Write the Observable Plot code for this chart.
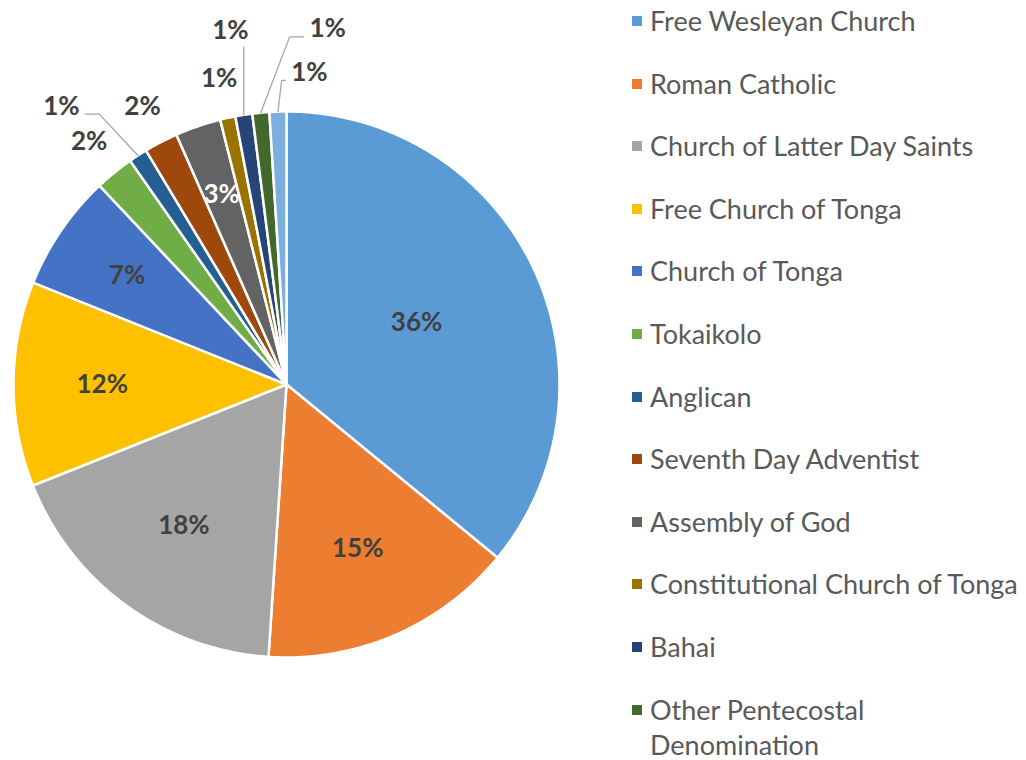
<!DOCTYPE html>
<html><head><meta charset="utf-8">
<script src="https://cdn.jsdelivr.net/npm/d3@7"></script>
<script src="https://cdn.jsdelivr.net/npm/@observablehq/plot@0.6"></script>
<style>
html,body{margin:0;padding:0;background:#fff;overflow:hidden;}
#wrap{position:relative;width:1026px;height:760px;overflow:hidden;font-family:Lato,sans-serif;}
#chart{position:absolute;left:0;top:0;}
#legend{position:absolute;left:632px;top:0;}
.row{min-height:62.6px;display:flex;align-items:flex-start;padding-top:3px;box-sizing:border-box;}
.sw{width:10px;height:10px;margin-top:13px;margin-right:8px;flex:none;}
.tx{font-size:27px;line-height:35px;color:#595959;max-width:372px;}
</style></head>
<body><div id="wrap"><div id="chart"></div><div id="legend"></div></div>
<script>
// ---- data ----
const categories = [
  "Free Wesleyan Church", "Roman Catholic", "Church of Latter Day Saints",
  "Free Church of Tonga", "Church of Tonga", "Tokaikolo", "Anglican",
  "Seventh Day Adventist", "Assembly of God", "Constitutional Church of Tonga",
  "Bahai", "Other Pentecostal Denomination", "Other"
];
const shares = [35.9, 15.1, 17.9, 12.1, 6.9, 2.3, 1.1, 2.0, 2.7, 0.9, 1.0, 1.0, 1.0];
const palette = ["#5B9BD5", "#ED7D31", "#A5A5A5", "#FFC000", "#4472C4", "#70AD47",
  "#255E91", "#9E480E", "#636363", "#997300", "#264478", "#43682B", "#7CAFDD"];

// ---- layout ----
const W = 600, H = 760, CX = 286, CY = 384, R_PX = 273;

// ---- geometry (unit circle, angle clockwise from 12 o'clock) ----
const total = d3.sum(shares);
const pt = (a, r) => [r * Math.sin(a), -r * Math.cos(a)];
let acc = 0;
const slices = categories.map((name, i) => {
  const a0 = acc / total * 2 * Math.PI; acc += shares[i];
  const a1 = acc / total * 2 * Math.PI;
  return {name, i, share: shares[i], a0, a1, mid: (a0 + a1) / 2,
          label: Math.round(shares[i]) + "%", color: palette[i]};
});
const features = slices.map(s => {
  const n = Math.max(2, Math.ceil((s.a1 - s.a0) / (Math.PI / 360)));
  const ring = [[0, 0]];
  for (let j = 0; j <= n; j++) ring.push(pt(s.a0 + (s.a1 - s.a0) * j / n, 1));
  ring.push([0, 0]);
  return {type: "Feature", properties: {name: s.name}, geometry: {type: "Polygon", coordinates: [ring]}};
});
// frame in unit coordinates (whole SVG), so the pie lands at (CX, CY) with radius R_PX
const x0 = -CX / R_PX, x1 = (W - CX) / R_PX, y0 = -CY / R_PX, y1 = (H - CY) / R_PX;
const domain = {type: "Polygon", coordinates: [[[x0, y0], [x1, y0], [x1, y1], [x0, y1], [x0, y0]]]};

// ---- labels ----
const inside = [], outside = [], leaders = [];
const u = 1 / R_PX;
const bw = 60 * u, bh = 30 * u, halfText = 20 * u;
const near = 1 + 40 * u, far = 1 + 85 * u;
const overlaps = (a, b) => Math.abs(a[0] - b[0]) < bw && Math.abs(a[1] - b[1]) < bh;
const outs = slices.filter(s => s.share / total < 0.025);
const ideal = outs.map(s => pt(s.mid, near));
const placed = [];
slices.forEach(s => {
  const frac = s.share / total;
  if (frac >= 0.025) {
    const [x, y] = pt(s.mid, 0.75 - 0.62 * frac);
    inside.push({x, y, label: s.label, fill: d3.hsl(s.color).l < 0.45 ? "white" : "#404040"});
  }
});
outs.forEach((s, j) => {
  let p = ideal[j], moved = false;
  if (placed.some(q => overlaps(p, q))) {
    const cands = [];
    for (const dd of [0, 6, 12, 18, 24]) {
      const d = dd * Math.PI / 180;
      cands.push([s.mid - d, far], [s.mid + d, far], [s.mid - d, near], [s.mid + d, near]);
    }
    const later = ideal.slice(j + 1);
    for (const c of cands) {
      const q = pt(c[0], c[1]);
      if (!placed.some(r => overlaps(q, r)) && !later.some(r => overlaps(q, r))) { p = q; moved = true; break; }
    }
  }
  placed.push(p);
  const [x, y] = p;
  outside.push({x, y, label: s.label});
  if (moved) {
    const [ax, ay] = pt(s.mid, 1);
    if (ax > x - halfText && ax < x + halfText && ay > y) {
      leaders.push({id: s.name, x: ax, y: y + 16 * u}, {id: s.name, x: ax, y: ay});
    } else {
      const side = ax > x ? 1 : -1;
      const sx = x + side * (halfText + 4 * u), sy = y + 8 * u;
      const el = Math.min(14 * u, Math.abs(ax - sx) / 2);
      leaders.push({id: s.name, x: sx, y: sy}, {id: s.name, x: sx + side * el, y: sy}, {id: s.name, x: ax, y: ay});
    }
  }
});

const chart = Plot.plot({
  width: W, height: H,
  margin: 0,
  projection: {type: "identity", domain},
  color: {domain: categories, range: palette},
  style: {fontFamily: "Lato, sans-serif", overflow: "visible"},
  marks: [
    Plot.geo(features, {fill: d => d.properties.name, stroke: "white", strokeWidth: 2.5}),
    Plot.line(leaders, {x: "x", y: "y", z: "id", stroke: "#A6A6A6", strokeWidth: 1.3}),
    Plot.text(inside, {x: "x", y: "y", text: "label", fill: "fill", fontSize: 26, fontWeight: "bold"}),
    Plot.text(outside, {x: "x", y: "y", text: "label", fill: "#404040", fontSize: 26, fontWeight: "bold"})
  ]
});
document.getElementById("chart").appendChild(chart);

// ---- legend (entries past the bottom edge are cut, as in the original) ----
const legend = document.getElementById("legend");
categories.forEach((c, i) => {
  const row = document.createElement("div"); row.className = "row";
  const sw = document.createElement("div"); sw.className = "sw"; sw.style.background = palette[i];
  const tx = document.createElement("div"); tx.className = "tx"; tx.textContent = c;
  row.appendChild(sw); row.appendChild(tx); legend.appendChild(row);
  if (row.offsetTop >= H) legend.removeChild(row);
});
</script>
</body></html>
